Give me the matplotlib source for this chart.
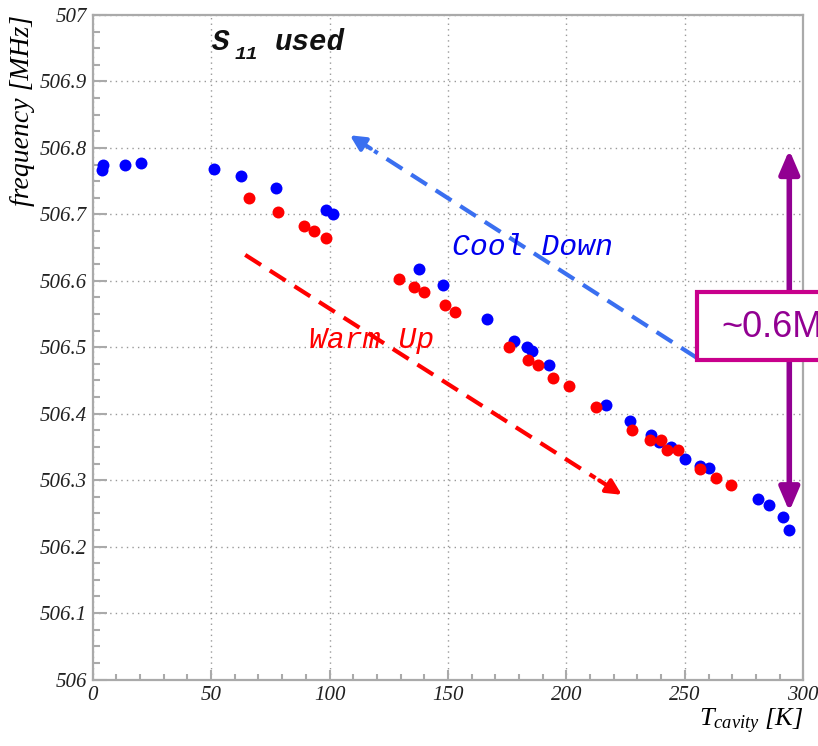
import matplotlib
matplotlib.use("Agg")
import matplotlib.pyplot as plt
from matplotlib.ticker import MultipleLocator
from matplotlib.patches import Rectangle

# cool down points (blue)
cool_T = [4.1, 4.5, 13.6, 20.4, 51.2, 62.7, 77.4, 98.4, 101.3, 137.9, 147.7,
          166.3, 177.8, 183.5, 185.4, 192.6, 216.7, 226.7, 235.7, 238.9, 244.1,
          250.2, 256.2, 260.4, 281.0, 285.5, 291.4, 294.1]
cool_f = [506.766, 506.774, 506.774, 506.778, 506.768, 506.758, 506.740, 506.706,
          506.701, 506.618, 506.593, 506.543, 506.510, 506.500, 506.495, 506.474,
          506.413, 506.389, 506.368, 506.357, 506.350, 506.332, 506.322, 506.318,
          506.272, 506.262, 506.245, 506.225]

# warm up points (red)
warm_T = [66.0, 78.2, 89.1, 93.5, 98.6, 129.2, 135.5, 139.9, 148.8, 153.1, 175.9,
          183.8, 188.1, 194.4, 201.2, 212.7, 227.9, 235.1, 240.0, 242.4, 246.9,
          256.6, 263.2, 269.4]
warm_f = [506.725, 506.703, 506.683, 506.675, 506.665, 506.603, 506.590, 506.583,
          506.563, 506.553, 506.500, 506.481, 506.473, 506.453, 506.441, 506.410,
          506.375, 506.360, 506.360, 506.345, 506.345, 506.317, 506.303, 506.292]

plt.rcParams['mathtext.fontset'] = 'custom'
plt.rcParams['mathtext.it'] = 'Liberation Serif:italic'
plt.rcParams['mathtext.rm'] = 'Liberation Serif:italic'

fig = plt.figure(figsize=(8.18, 7.46), dpi=100)
ax = fig.add_axes([0.1133, 0.0891, 0.8687, 0.8908])

ax.plot(cool_T, cool_f, 'o', color='#0000ff', ms=8.6, mew=0, zorder=3)
ax.plot(warm_T, warm_f, 'o', color='#ff0000', ms=8.6, mew=0, zorder=4)

ax.set_xlim(0, 300)
ax.set_ylim(506, 507)
ax.xaxis.set_major_locator(MultipleLocator(50))
ax.xaxis.set_minor_locator(MultipleLocator(10))
ax.yaxis.set_major_locator(MultipleLocator(0.1))
ax.yaxis.set_minor_locator(MultipleLocator(0.025))
ax.yaxis.set_major_formatter(plt.FuncFormatter(lambda v, p: f"{v:g}"))
ax.xaxis.set_major_formatter(plt.FuncFormatter(lambda v, p: f"{v:g}"))

gray = '#aaaaaa'
for s in ax.spines.values():
    s.set_color(gray)
    s.set_linewidth(1.6)
ax.tick_params(which='both', direction='in', color=gray, width=1.5,
               top=False, right=False)
ax.tick_params(axis='y', which='major', length=10, pad=4)
ax.tick_params(axis='y', which='minor', length=5)
ax.tick_params(axis='x', which='major', length=7, pad=5)
ax.tick_params(axis='x', which='minor', length=4)
for lab in ax.get_xticklabels() + ax.get_yticklabels():
    lab.set_family('Liberation Serif')
    lab.set_style('italic')
    lab.set_fontsize(15)
    lab.set_color('#222222')
ax.grid(True, which='major', color='#999999', linestyle=(0, (1, 3)), lw=1)

ax.set_ylabel('frequency [MHz]', family='Liberation Serif', style='italic',
              fontsize=20, loc='top')
ax.yaxis.set_label_coords(-0.081, 1.0)
ax.set_xlabel(r'$T_{cavity}\ [K]$', fontsize=19, loc='right')
ax.xaxis.set_label_coords(1.0, -0.041)

mono = dict(family='Liberation Mono', weight='bold', style='italic', color='#111111')
ax.text(50.4, 506.947, 'S', fontsize=21, va='baseline', **mono)
ax.text(60.0, 506.934, '11', fontsize=14, va='baseline', **mono)
ax.text(77.0, 506.947, 'used', fontsize=21, va='baseline', **mono)

ax.text(185.7, 506.651, 'Cool Down', family='Liberation Mono', style='italic',
        fontsize=21.5, color='#0000ee', ha='center', va='center')
ax.text(117.8, 506.511, 'Warm Up', family='Liberation Mono', style='italic',
        fontsize=21.5, color='#ff0000', ha='center', va='center')

# dashed arrows
def dashed_arrow(x0, y0, x1, y1, col):
    ax.plot([x0, x0 + 0.93 * (x1 - x0)], [y0, y0 + 0.93 * (y1 - y0)], color=col,
            lw=3, ls=(0, (4.5, 2.5)), zorder=2)
    ax.annotate('', xy=(x1, y1),
                xytext=(x0 + 0.94 * (x1 - x0), y0 + 0.94 * (y1 - y0)),
                arrowprops=dict(arrowstyle='-|>,head_length=0.9,head_width=0.45',
                                color=col, lw=3, shrinkA=0, shrinkB=0), zorder=2)

dashed_arrow(255.1, 506.484, 108.6, 506.819, '#3a6ff0')
dashed_arrow(64.4, 506.639, 223.4, 506.278, '#ff0000')

# range arrow with box
ax.annotate('', xy=(294.1, 506.797), xytext=(294.1, 506.253),
            arrowprops=dict(arrowstyle='<|-|>,head_length=1.4,head_width=0.6',
                            color='#920092', lw=4, shrinkA=0, shrinkB=0), zorder=5)
ax.add_patch(Rectangle((255.1, 506.481), 90, 0.102, facecolor='white',
                       edgecolor='#c8008c', lw=3, clip_on=False, zorder=6))
ax.text(265.6, 506.530, '~0.6MHz', family='Liberation Sans', fontsize=26,
        color='#920092', va='center', ha='left', clip_on=False, zorder=7)

fig.savefig('out.png', dpi=100)
